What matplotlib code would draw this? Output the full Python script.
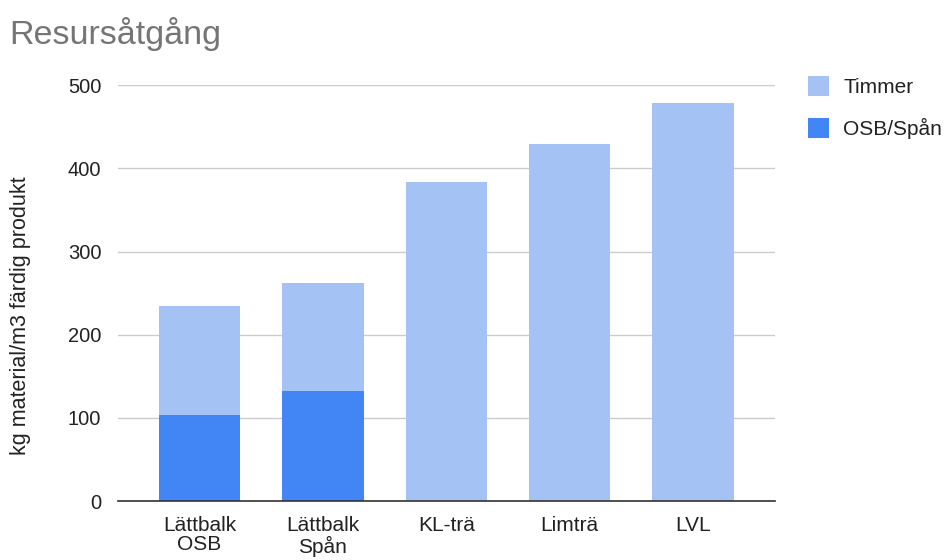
import matplotlib.pyplot as plt
from matplotlib.patches import Patch

plt.rcParams['font.family'] = ['Liberation Sans', 'DejaVu Sans']

# data
categories = ['Lättbalk\nOSB', 'Lättbalk\nSpån', 'KL-trä', 'Limträ', 'LVL']
osb_span = [104, 132, 0, 0, 0]
timmer = [131, 130, 384, 429, 478]
yticks = [0, 100, 200, 300, 400, 500]

timmer_color = '#a4c2f4'
osb_color = '#4285f4'

fig = plt.figure(figsize=(9.47, 5.6), dpi=100)
ax = fig.add_axes([0.1246, 0.105, 0.6934, 0.743])

x = range(len(categories))
ax.bar(x, osb_span, width=0.66, color=osb_color, zorder=3)
ax.bar(x, timmer, width=0.66, bottom=osb_span, color=timmer_color, zorder=3)

ax.set_xlim(-0.66, len(categories) - 0.34)
ax.set_ylim(0, 500)
ax.set_yticks(yticks)
ax.set_xticks(list(x))
ax.set_xticklabels(categories, fontsize=15, color='#222222', linespacing=1.0)
ax.tick_params(axis='y', labelsize=14.5, labelcolor='#222222', length=0, pad=12)
ax.tick_params(axis='x', length=0, pad=11)
ax.yaxis.grid(True, color='#cccccc', linewidth=1, zorder=0)
for s in ['top', 'right', 'left']:
    ax.spines[s].set_visible(False)
ax.spines['bottom'].set_color('#333333')
ax.spines['bottom'].set_linewidth(1.2)
ax.spines['bottom'].set_zorder(4)

fig.text(0.022, 0.437, 'kg material/m3 färdig produkt', fontsize=15.5, color='#222222',
         rotation=90, ha='center', va='center')

fig.text(0.010, 0.922, 'Resursåtgång', fontsize=24.5, color='#757575')

handles = [Patch(facecolor=timmer_color, label='Timmer'),
           Patch(facecolor=osb_color, label='OSB/Spån')]
fig.legend(handles=handles, loc='upper left', bbox_to_anchor=(0.833, 0.897),
           frameon=False, fontsize=15, handlelength=1.05, handleheight=1.05,
           labelspacing=1.0, handletextpad=0.65, labelcolor='#222222')

plt.savefig('out.png', dpi=100)
plt.close()
